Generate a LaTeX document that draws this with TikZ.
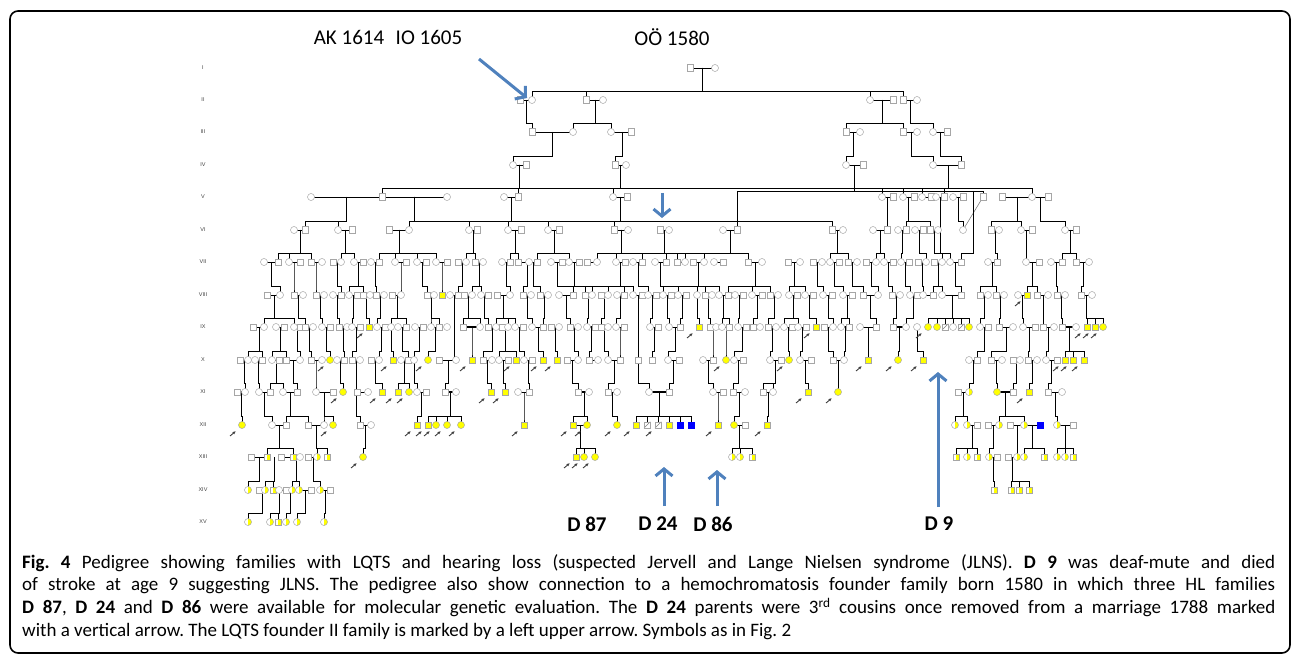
\documentclass[tikz,border=0pt]{standalone}
\usepackage{fontspec}
\setmainfont{Carlito}
\newfontfamily\genfont{Liberation Sans}
\usetikzlibrary{arrows.meta}
\definecolor{MarkBlue}{RGB}{79,129,189}
\definecolor{PedYellow}{RGB}{255,255,0}
\definecolor{PedBlue}{RGB}{0,0,255}

% one sibship: parent line at x=#1 in row #2, children in row #3
\newcommand\kin[4]{\foreach \cx in {#4}{\draw[ml] (#1,#2) -- (#1,#3-9) -| (\cx,#3);}}
\newcommand\persons[2]{\foreach \px/\st in {#2}{\node[style=\st] at (\px,#1) {};}}
\newcommand\mates[2]{\foreach \ma/\mb in {#2}{\draw[ml] (\ma,#1) -- (\mb,#1);}}
\newcommand\matesT[2]{\foreach \ma/\mb in {#2}{\draw[ml,line width=2.6pt] (\ma,#1) -- (\mb,#1);}}

\begin{document}
\frenchspacing
\begin{tikzpicture}[x=1pt,y=-1pt,
  ml/.style={line width=0.9pt,black},
  ps/.style={draw=gray!70,fill=white,line width=0.5pt,minimum size=6.5pt,inner sep=0pt,outer sep=0pt},
  pc/.style={ps,circle,minimum size=7pt},
  psY/.style={ps,fill=PedYellow},
  pcY/.style={pc,fill=PedYellow},
  psB/.style={ps,fill=PedBlue,draw=PedBlue},
  psH/.style={ps,path picture={\fill[PedYellow] (path picture bounding box.north) rectangle (path picture bounding box.south east);}},
  pcH/.style={pc,path picture={\fill[PedYellow] (path picture bounding box.north) rectangle (path picture bounding box.south east);}},
  psD/.style={ps,path picture={\draw[gray,line width=0.5pt] (path picture bounding box.south west) -- (path picture bounding box.north east);}},
  parr/.style={-{Latex[length=3.5pt,width=3pt]},line width=0.9pt,black!75},
  barrow/.style={line width=3pt,MarkBlue,-{Straight Barb[length=7pt,width=17pt]}},
  genlab/.style={font=\genfont\fontsize{5.5}{6}\selectfont,text=black!75,inner sep=0pt},
  toplab/.style={font=\fontsize{21}{24}\selectfont,inner sep=0pt},
  dlab/.style={font=\bfseries\fontsize{21}{24}\selectfont,inner sep=0pt}]
\useasboundingbox (0,0) rectangle (1293,655);
\draw[line width=1.6pt,rounded corners=8pt] (10,11) rectangle (1290,653);

% generations
\foreach \r/\gy in {I/68,II/100,III/132,IV/165,V/197,VI/230,VII/262,VIII/295,IX/327,X/360,XI/392,XII/425,XIII/457,XIV/490,XV/522}
  \node[genlab] (gen\r) at (203,\gy) {\r};

% ---- lines I-VI
\kin{702}{68}{100}{532,586,870,903}
\kin{526}{100}{132}{532}
\kin{595}{100}{132}{573,611}
\kin{882}{100}{132}{846,903}
\kin{910}{100}{132}{933}
\kin{552}{132}{165}{513}
\kin{622}{132}{165}{615}
\kin{853}{132}{165}{846}
\kin{911}{132}{165}{933}
\kin{940}{132}{165}{961}
\kin{519}{165}{197}{382,518,613,882,903,922,944,1032}
\draw[ml] (620,165) -- (620,188);
\draw[ml] (854,165) -- (854,191);
\draw[ml] (948,165) -- (948,188);
\draw[ml] (737,191) -- (983,191);
\draw[ml] (737,191) -- (737,222);
\draw[ml] (983,191) -- (983,197);
\draw[gray,line width=0.6pt] (983,197) -- (963,230);
\draw[ml] (940,197) -- (940,253) -| (950,262);
\draw[ml] (973,191) -- (973,253) -| (961,262);
\kin{346}{197}{230}{305,338}
\kin{414}{197}{230}{409,469,548,614,737,832}
\kin{511}{197}{230}{508}
\kin{620}{197}{230}{614}
\kin{887}{197}{230}{887}
\kin{908}{197}{230}{906,930}
\kin{958}{197}{230}{963}
\kin{1017}{197}{230}{991,1021}
\kin{1040}{197}{230}{1065}
\mates{68}{690/715}
\mates{100}{520/532,586/603,870/893,903/917}
\mates{132}{532/573,611/631,846/860,903/917,933/947}
\mates{165}{513/526,615/626,846/863,933/961}
\mates{197}{311/447,504/518,613/627,882/893,903/914,922/931,936/944,953/963,1002/1048}
\mates{230}{294/305,338/352,389/409,469/477,508/521,548/559,614/628,660/669,723/737,832/843,873/887,898/906,915/923,930/938,991/999,1021/1032,1065/1076}

% ---- VI -> VII
\kin{300}{230}{262}{278,289,311}
\kin{345}{230}{262}{341,354}
\kin{399}{230}{262}{379,395,417,436}
\kin{473}{230}{262}{466,475}
\kin{515}{230}{262}{510,518}
\kin{554}{230}{262}{537,569}
\kin{621}{230}{262}{597,616,642,677,704}
\kin{664}{230}{262}{666}
\kin{730}{230}{262}{685,748}
\kin{837}{230}{262}{830,848}
\kin{880}{230}{262}{876,884}
\kin{902}{230}{262}{901}
\kin{919}{230}{262}{926}
\kin{934}{230}{262}{942}
\kin{995}{230}{262}{997}
\kin{1026}{230}{262}{1026}
\kin{1070}{230}{262}{1062,1076}
\mates{262}{264/278,289/300,311/322,333/341,354/363,371/379,395/406,417/426,436/447,458/466,475/483,502/510,518/537,551/562,569/579,587/597,616/625,633/642,655/666,677/685,693/704,714/723,748/762,788/800,813/822,830/839,848/857,866/876,884/893,901/909,918/926,934/942,950/961,988/997,1026/1039,1051/1062,1076/1089}

% ---- VII -> VIII
\kin{271}{262}{295}{280}
\kin{294}{262}{295}{294}
\kin{316}{262}{295}{316}
\kin{337}{262}{295}{341}
\kin{358}{262}{295}{349,363}
\kin{375}{262}{295}{376}
\kin{401}{262}{295}{401}
\kin{422}{262}{295}{427}
\kin{442}{262}{295}{442}
\kin{462}{262}{295}{458}
\kin{479}{262}{295}{472,481}
\kin{506}{262}{295}{510}
\kin{527}{262}{295}{523}
\kin{533}{262}{295}{540}
\kin{557}{262}{295}{573,592,608,624}
\kin{574}{262}{295}{585}
\kin{620}{262}{295}{633}
\kin{638}{262}{295}{648}
\kin{660}{262}{295}{663,678,697}
\kin{698}{262}{295}{705,719}
\kin{755}{262}{295}{728,752,770}
\kin{794}{262}{295}{789,805}
\kin{817}{262}{295}{823}
\kin{834}{262}{295}{843}
\kin{852}{262}{295}{863}
\kin{871}{262}{295}{878}
\kin{888}{262}{295}{892}
\kin{905}{262}{295}{910}
\kin{922}{262}{295}{923}
\kin{938}{262}{295}{933,942}
\kin{955}{262}{295}{961}
\kin{992}{262}{295}{980,996}
\kin{1032}{262}{295}{1027,1037}
\kin{1056}{262}{295}{1057}
\kin{1083}{262}{295}{1081}
\mates{295}{267/280,294/303,316/324,333/341,349/357,363/370,376/384,392/401,427/434,450/458,464/472,481/488,497/510,523/531,540/548,559/573,585/592,601/608,617/624,633/642,648/656,663/671,678/686,705/712,719/728,735/743,752/762,770/778,789/797,805/813,823/832,843/852,863/878,892/900,910/917,923/933,942/961,980/988,996/1004,1018/1027,1037/1048,1057/1065,1081/1092}

% ---- VIII -> IX
\kin{274}{295}{327}{264,294}
\kin{298}{295}{327}{305}
\kin{320}{295}{327}{322}
\kin{337}{295}{327}{339}
\kin{353}{295}{327}{352}
\kin{366}{295}{327}{369}
\kin{380}{295}{327}{377}
\kin{397}{295}{327}{391,406}
\kin{431}{295}{327}{431,439}
\draw[ml] (454,295) -- (454,360);
\kin{468}{295}{327}{463,480}
\kin{484}{295}{327}{488}
\kin{503}{295}{327}{496,508,515}
\kin{527}{295}{327}{532}
\kin{544}{295}{327}{543}
\kin{566}{295}{327}{570}
\kin{588}{295}{327}{587}
\kin{604}{295}{327}{601}
\kin{620}{295}{327}{616}
\draw[ml] (638,295) -- (638,360);
\kin{652}{295}{327}{650}
\kin{667}{295}{327}{669}
\kin{682}{295}{327}{680}
\kin{697}{295}{327}{699}
\kin{708}{295}{327}{710}
\kin{723}{295}{327}{722,729}
\kin{739}{295}{327}{738}
\kin{757}{295}{327}{753}
\kin{774}{295}{327}{768}
\kin{793}{295}{327}{784,798}
\kin{809}{295}{327}{816}
\kin{828}{295}{327}{833}
\kin{847}{295}{327}{841,849}
\kin{870}{295}{327}{876}
\kin{896}{295}{327}{893}
\kin{913}{295}{327}{906}
\kin{952}{295}{327}{928,937,945,953,961,969}
\kin{984}{295}{327}{980}
\kin{1000}{295}{327}{999}
\kin{1022}{295}{327}{1023}
\kin{1043}{295}{327}{1043}
\kin{1061}{295}{327}{1062}
\kin{1086}{295}{327}{1087,1095,1103}
\mates{327}{253/264,276/284,294/300,305/313,322/330,352/360,377/385,398/406,415/423,431/439,488/496,502/508,515/523,532/543,551/559,570/578,601/608,616/624,650/658,669/680,710/716,722/729,738/746,753/760,784/792,798/806,824/833,860/876,980/988,999/1013,1023/1035,1043/1054}
\matesT{327}{339/347,463/480,587/595,768/776,841/849,893/906,1062/1076}

% ---- IX -> X
\kin{259}{327}{360}{248,262}
\kin{280}{327}{360}{272,286}
\kin{297}{327}{360}{300}
\kin{309}{327}{360}{311}
\kin{326}{327}{360}{330}
\kin{343}{327}{360}{344}
\kin{356}{327}{360}{352}
\kin{381}{327}{360}{379}
\kin{391}{327}{360}{393}
\kin{402}{327}{360}{408}
\kin{419}{327}{360}{414}
\kin{435}{327}{360}{428}
\kin{472}{327}{360}{472}
\kin{492}{327}{360}{483}
\kin{505}{327}{360}{499,516}
\kin{519}{327}{360}{524}
\kin{538}{327}{360}{543}
\kin{555}{327}{360}{557}
\kin{574}{327}{360}{578}
\kin{591}{327}{360}{589}
\kin{604}{327}{360}{608}
\kin{620}{327}{360}{620}
\kin{654}{327}{360}{652}
\kin{675}{327}{360}{668}
\kin{713}{327}{360}{713}
\kin{726}{327}{360}{726}
\kin{742}{327}{360}{734}
\kin{772}{327}{360}{770}
\kin{788}{327}{360}{789}
\kin{802}{327}{360}{800}
\kin{828}{327}{360}{833}
\kin{845}{327}{360}{844}
\kin{868}{327}{360}{868}
\kin{899}{327}{360}{898}
\kin{917}{327}{360}{923}
\kin{984}{327}{360}{977}
\kin{1006}{327}{360}{991}
\kin{1029}{327}{360}{1028}
\kin{1048}{327}{360}{1046}
\kin{1069}{327}{360}{1065,1073,1084}
\mates{360}{240/248,255/262,272/279,286/300,311/322,337/344,352/360,371/379,401/408,439/456,483/492,499/508,524/532,567/578,589/598,608/620,668/679,703/713,734/743,770/781,800/811,833/844,969/977,991/1002,1013/1020,1028/1037,1046/1057}

% ---- X -> XI
\kin{244}{360}{392}{245}
\kin{258}{360}{392}{259}
\kin{276}{360}{392}{270,283}
\kin{293}{360}{392}{297}
\kin{316}{360}{392}{316}
\kin{340}{360}{392}{343}
\draw[ml] (356,360) -- (356,416) -| (360,425);
\kin{375}{360}{392}{382}
\kin{404}{360}{392}{398,409}
\kin{414}{360}{392}{417}
\kin{448}{360}{392}{445}
\kin{487}{360}{392}{491}
\kin{503}{360}{392}{505}
\kin{528}{360}{392}{529}
\kin{572}{360}{392}{578}
\kin{614}{360}{392}{608}
\kin{638}{360}{392}{649}
\kin{673}{360}{392}{669}
\kin{708}{360}{392}{713}
\kin{738}{360}{392}{733}
\kin{775}{360}{392}{763,773}
\kin{805}{360}{392}{808}
\kin{838}{360}{392}{838}
\kin{973}{360}{392}{969}
\kin{996}{360}{392}{997}
\kin{1016}{360}{392}{1013}
\kin{1032}{360}{392}{1029}
\kin{1051}{360}{392}{1048}
\mates{392}{259/270,283/297,316/333,357/368,417/426,518/529,608/617,713/723,733/745,763/773,958/969,1048/1062}
\matesT{392}{237/245,445/456,578/589,649/669,997/1013}

% ---- XI -> XII
\kin{241}{392}{425}{242}
\kin{264}{392}{425}{272}
\kin{290}{392}{425}{286,308}
\kin{324}{392}{425}{324,333}
\kin{421}{392}{425}{417}
\kin{450}{392}{425}{428,436,447,461}
\kin{524}{392}{425}{524}
\kin{584}{392}{425}{573,587}
\kin{612}{392}{425}{617}
\kin{659}{392}{425}{636,647,658,669,680,691}
\kin{718}{392}{425}{718}
\kin{739}{392}{425}{734}
\kin{768}{392}{425}{767}
\kin{963}{392}{425}{955,967}
\kin{1005}{392}{425}{999,1024}
\kin{1055}{392}{425}{1057}
\mates{425}{272/286,308/324,360/371,573/587,734/745,967/977,988/999,1010/1040,1057/1073}

% ---- XII -> XV
\kin{279}{425}{457}{267,293}
\kin{316}{425}{457}{317,327}
\kin{365}{425}{457}{363}
\kin{580}{425}{457}{576,584,595}
\kin{739}{425}{457}{732,740,752}
\kin{972}{425}{457}{956,967,977}
\kin{993}{425}{457}{989}
\kin{1017}{425}{457}{1017}
\kin{1032}{425}{457}{1024,1044}
\kin{1065}{425}{457}{1057,1065,1073}
\mates{457}{251/267,281/300,308/317,989/997,1008/1017}
\kin{259}{457}{490}{248}
\kin{274}{457}{490}{265,273}
\kin{296}{457}{490}{292,299}
\kin{313}{457}{490}{320}
\kin{993}{457}{490}{994}
\kin{1012}{457}{490}{1011,1019,1029}
\mates{490}{259/265,273/286,299/311,320/330}
\kin{262}{490}{522}{248}
\kin{279}{490}{522}{270,278}
\kin{290}{490}{522}{286}
\kin{305}{490}{522}{297}
\kin{325}{490}{522}{324}

% ---- symbols
\persons{68}{690/ps,715/pc}
\persons{100}{520/ps,532/pc,586/ps,603/pc,870/pc,893/ps,903/ps,917/pc}
\persons{132}{532/ps,573/pc,611/pc,631/ps,846/ps,860/pc,903/ps,917/pc,933/pc,947/ps}
\persons{165}{513/pc,526/ps,615/ps,626/pc,846/pc,863/ps,933/pc,961/ps}
\persons{197}{311/pc,382/ps,447/pc,504/pc,518/ps,613/pc,627/ps,882/pc,893/ps,903/pc,914/ps,922/pc,931/ps,936/pc,944/ps,953/pc,963/ps,983/ps,1002/ps,1032/pc,1048/ps}
\persons{230}{294/pc,305/ps,338/pc,352/ps,389/ps,409/pc,469/pc,477/ps,508/pc,521/ps,548/pc,559/ps,614/ps,628/pc,660/ps,669/pc,723/pc,737/ps,832/ps,843/pc,873/pc,887/ps,898/pc,906/ps,915/pc,923/ps,930/ps,938/pc,963/pc,991/ps,999/pc,1021/pc,1032/ps,1065/pc,1076/ps}
\persons{262}{264/pc,278/ps,289/pc,300/ps,311/ps,322/pc,333/ps,341/pc,354/pc,363/ps,371/pc,379/ps,395/pc,406/ps,417/pc,426/ps,436/pc,447/ps,458/ps,466/pc,475/ps,483/pc,502/pc,510/ps,518/ps,529/pc,537/ps,551/pc,562/ps,569/pc,579/ps,587/ps,597/pc,616/pc,625/ps,633/pc,642/ps,655/pc,666/ps,677/ps,685/pc,693/ps,704/pc,714/pc,723/ps,748/ps,762/pc,788/ps,800/pc,813/ps,822/pc,830/pc,839/ps,848/ps,857/pc,866/ps,876/pc,884/pc,893/ps,901/pc,909/ps,918/ps,926/pc,934/ps,942/pc,950/pc,961/ps,988/pc,997/ps,1026/pc,1039/ps,1051/pc,1062/ps,1076/ps,1089/pc}
\persons{295}{267/ps,280/pc,294/ps,303/pc,316/ps,324/pc,333/pc,341/ps,349/pc,357/ps,363/ps,370/pc,376/ps,384/pc,392/ps,401/pc,427/ps,434/pc,442/psY,450/pc,458/ps,464/ps,472/pc,481/pc,488/ps,497/ps,510/pc,523/ps,531/pc,540/ps,548/pc,559/pc,573/ps,585/ps,592/pc,601/ps,608/pc,617/pc,624/ps,633/pc,642/ps,648/pc,656/ps,663/pc,671/ps,678/pc,686/ps,697/pc,705/ps,712/pc,719/pc,728/ps,735/pc,743/ps,752/pc,762/ps,770/ps,778/pc,789/pc,797/ps,805/pc,813/ps,823/pc,832/ps,843/pc,852/ps,863/ps,878/pc,892/ps,900/pc,910/pc,917/ps,923/pc,933/ps,942/pc,961/ps,980/ps,988/pc,996/ps,1004/pc,1018/pc,1027/psY,1037/ps,1048/pc,1057/ps,1065/pc,1081/ps,1092/pc}
\persons{327}{253/ps,264/pc,276/pc,284/ps,294/pc,300/ps,305/ps,313/pc,322/pc,330/ps,339/ps,347/pc,352/pc,360/ps,369/psY,377/pc,385/ps,391/pc,398/pc,406/ps,415/pc,423/ps,431/pc,439/ps,447/pc,463/ps,480/pc,488/ps,496/pc,502/ps,508/pc,515/pc,523/ps,532/pc,543/ps,551/ps,559/pc,570/ps,578/pc,587/pc,595/ps,601/ps,608/pc,616/pc,624/ps,650/pc,658/ps,669/pc,680/ps,699/psY,710/ps,716/pc,722/pc,729/ps,738/pc,746/ps,753/ps,760/pc,768/ps,776/pc,784/pc,792/ps,798/pc,806/ps,816/psY,824/ps,833/pc,841/pc,849/ps,860/pc,876/ps,893/ps,906/pc,917/pc,928/pcY,937/pcY,945/psD,953/pc,961/psD,969/pcY,980/pc,988/ps,999/ps,1013/pc,1023/pc,1035/ps,1043/ps,1054/pc,1062/ps,1076/pc,1087/psY,1095/psY,1103/pcY}
\persons{360}{240/ps,248/pc,255/pc,262/ps,272/pc,279/ps,286/ps,300/pc,311/ps,322/pc,330/pcY,337/pc,344/ps,352/ps,360/pc,371/ps,379/pc,393/psY,401/pc,408/ps,414/pc,428/pcY,439/ps,456/pc,472/psY,483/ps,492/pc,499/pc,508/ps,516/psY,524/pc,532/ps,543/psY,557/psY,567/ps,578/pc,589/ps,598/pc,608/pc,620/ps,638/ps,652/ps,668/pc,679/ps,703/pc,713/ps,726/pcY,734/pc,743/ps,770/pc,781/ps,789/pcY,800/pc,811/ps,833/ps,844/pc,868/psY,898/pcY,923/psY,969/pc,977/ps,991/ps,1002/pc,1013/ps,1020/pc,1028/ps,1037/pc,1046/pc,1057/ps,1065/psY,1073/psY,1084/psY}
\persons{392}{237/ps,245/pc,259/pc,270/ps,283/pc,297/ps,316/pc,333/ps,343/pcY,357/ps,368/pc,382/psY,398/psY,409/pcY,417/pc,426/ps,445/ps,456/pc,491/psY,505/psY,518/pc,529/ps,578/ps,589/pc,608/ps,617/pc,649/pc,669/ps,713/pc,723/ps,733/ps,745/pc,763/ps,773/pc,808/psY,838/pcY,958/ps,969/pcH,997/pcY,1013/ps,1029/psY,1048/ps,1062/pc}
\persons{425}{242/pcY,272/pc,286/ps,308/ps,324/pc,333/pcY,360/ps,371/pc,417/psY,428/psY,436/pcY,447/pcY,461/pcY,524/psY,573/psY,587/pcY,617/pcY,636/psY,647/psD,658/psD,669/psY,680/psB,691/psB,718/psY,734/pcY,745/ps,767/psY,955/pcH,967/pcH,977/ps,988/ps,999/pcH,1010/ps,1024/pcH,1040/psB,1057/pcH,1073/ps}
\persons{457}{251/ps,267/psH,281/ps,293/psH,300/pc,308/ps,317/pcH,327/psH,363/pcY,576/psY,584/pcY,595/pcY,732/pcH,740/pcH,752/psH,956/psH,967/pcH,977/psH,989/pcH,997/ps,1008/ps,1017/pcH,1024/pcH,1044/psH,1057/pcH,1065/pcH,1073/psH}
\persons{490}{248/pcH,259/ps,265/pcH,273/psH,279/pc,286/ps,292/pcH,299/pcH,311/ps,320/pcH,330/ps,994/psH,1011/psH,1019/psH,1029/psH}
\persons{522}{248/pcH,270/pcH,278/psH,286/pcH,297/pcH,324/pcH}

% probands
\foreach \ax/\ay in {1027/295,369/327,699/327,816/327,928/327,1087/327,1095/327,1103/327,
  330/360,393/360,428/360,472/360,516/360,543/360,557/360,726/360,789/360,868/360,898/360,923/360,1065/360,1073/360,1084/360,
  343/392,382/392,398/392,409/392,491/392,505/392,808/392,838/392,1029/392,
  242/425,333/425,417/425,428/425,436/425,447/425,461/425,524/425,573/425,587/425,617/425,636/425,658/425,718/425,767/425,
  363/457,576/457,584/457,595/457}
  \draw[parr] (\ax-12,\ay+11) -- (\ax-6,\ay+6);

% labels and marks
\node[toplab] (ak) at (349,37) {AK 1614};
\node[toplab] (io) at (429,37) {IO 1605};
\node[toplab] (oo) at (672,37) {OÖ 1580};
\draw[barrow] (479,59) -- (527,98);
\draw[barrow] (662,193) -- (662,218);
\node[dlab] (d87) at (587,524) {D 87};
\node[dlab] (d24) at (658,524) {D 24};
\node[dlab] (d86) at (713,524) {D 86};
\node[dlab] (d9) at (939,524) {D 9};
\draw[barrow] (664,506) -- (664,467);
\draw[barrow] (717,506) -- (717,470);
\draw[barrow] (938,507) -- (938,372);

\node[anchor=north west,text width=1253pt,inner sep=0pt,align=justify,
  font=\fontsize{19}{22.7}\selectfont] (caption) at (22,554)
  {\textbf{Fig. 4} Pedigree showing families with LQTS and hearing loss (suspected Jervell and Lange Nielsen syndrome (JLNS). \textbf{D 9} was deaf-mute and died\linebreak
  of stroke at age 9 suggesting JLNS. The pedigree also show connection to a hemochromatosis founder family born 1580 in which three HL families\linebreak
  \textbf{D 87}, \textbf{D 24} and \textbf{D 86} were available for molecular genetic evaluation. The \textbf{D 24} parents were 3\textsuperscript{rd} cousins once removed from a marriage 1788 marked\linebreak
  with a vertical arrow. The LQTS founder II family is marked by a left upper arrow. Symbols as in Fig. 2};
\end{tikzpicture}
\end{document}
